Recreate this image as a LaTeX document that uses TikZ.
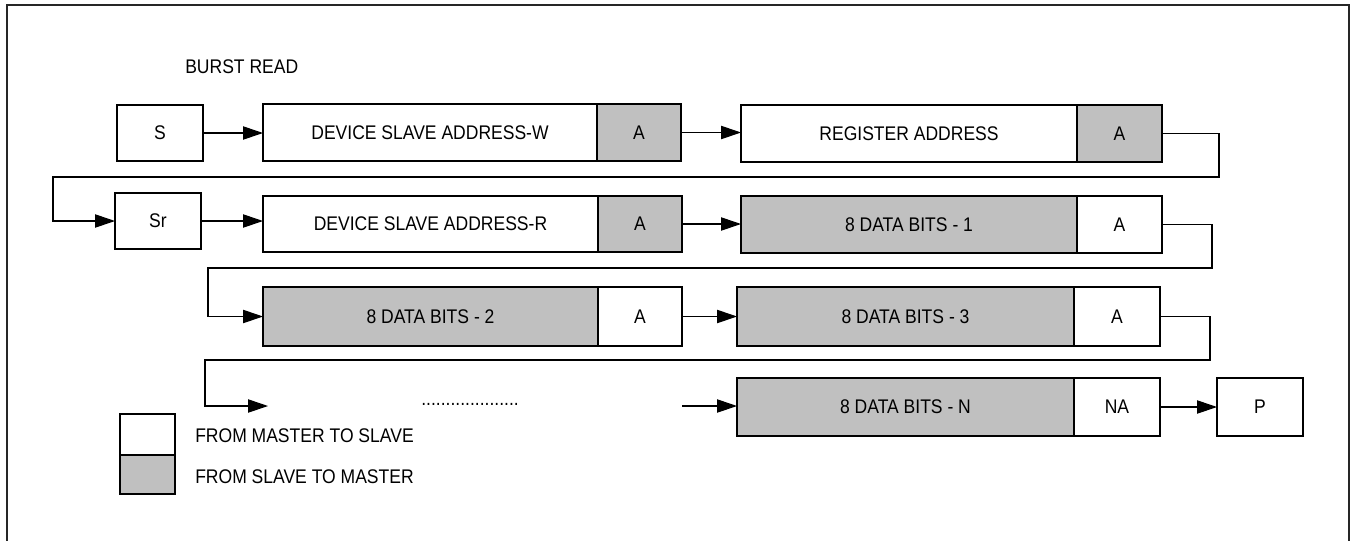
\documentclass[tikz,border=0pt]{standalone}
\usepackage{fontspec}
\setmainfont{Liberation Sans}[FakeStretch=0.888]
\usetikzlibrary{arrows.meta}
\definecolor{shade}{RGB}{192,192,192}
\newcommand\pbox[7]{\node[#6, minimum width={(#4-#2)*0.75pt}, minimum height={(#5-#3)*0.75pt}] (#1) at ({(#2+#4)/2},{(#3+#5)/2}) {#7};}
\tikzset{
  box/.style={draw, line width=0.9pt, inner sep=0pt, outer sep=0pt},
  wbox/.style={box, fill=white},
  gbox/.style={box, fill=shade},
  conn/.style={line width=0.8pt, -{Triangle[length=15pt,width=10pt]}},
  frame/.style={line width=1.7pt, draw=black!85},
  lbl/.style={anchor=west, inner sep=0pt}
}
\begin{document}
\begin{tikzpicture}[x=0.75pt, y=-0.75pt, font=\fontsize{14.8pt}{18pt}\selectfont]
\useasboundingbox (0,0) rectangle (1351,540);
\draw[frame] (7,545) -- (7,5) -- (1349,5) -- (1349,545);

\node[lbl] (title) at (185,67) {BURST READ};

% row 1
\pbox{s}{117}{105}{203}{161}{wbox}{S}
\pbox{dw}{263}{104}{597}{161}{wbox}{DEVICE SLAVE ADDRESS-W}
\pbox{dwa}{597}{104}{681}{161}{gbox}{A}
\pbox{ra}{741}{105}{1077}{162}{wbox}{REGISTER ADDRESS}
\pbox{raa}{1077}{105}{1162}{162}{gbox}{A}

% row 2
\pbox{sr}{115}{193}{201}{249}{wbox}{Sr}
\pbox{dr}{263}{196}{598}{252}{wbox}{DEVICE SLAVE ADDRESS-R}
\pbox{dra}{598}{196}{682}{252}{gbox}{A}
\pbox{d1}{741}{196}{1077}{253}{gbox}{8 DATA BITS - 1}
\pbox{d1a}{1077}{196}{1162}{253}{wbox}{A}

% row 3
\pbox{d2}{263}{287}{598}{346}{gbox}{8 DATA BITS - 2}
\pbox{d2a}{598}{287}{682}{346}{wbox}{A}
\pbox{d3}{737}{287}{1074}{346}{gbox}{8 DATA BITS - 3}
\pbox{d3a}{1074}{287}{1160}{346}{wbox}{A}

% row 4
\pbox{dn}{737}{378}{1074}{436}{gbox}{8 DATA BITS - N}
\pbox{dna}{1074}{378}{1160}{436}{wbox}{NA}
\pbox{p}{1217}{378}{1303}{436}{wbox}{P}
\node[inner sep=0pt] (dots) at (470,404) {....................};

% legend
\pbox{lw}{120}{414}{175}{455}{wbox}{}
\pbox{lg}{120}{455}{175}{494}{gbox}{}
\node[lbl] (lwt) at (195,436) {FROM MASTER TO SLAVE};
\node[lbl] (lgt) at (195,477) {FROM SLAVE TO MASTER};

% connectors
\draw[conn] (s.east) -- (s.east -| dw.west);
\draw[conn] (dwa.east) -- (dwa.east -| ra.west);
\coordinate (w1a) at (1219,177);
\coordinate (w1b) at (53,177);
\draw[conn] (raa.east) -| (w1a) -- (w1b) |- (sr.west);
\draw[conn] (sr.east) -- (sr.east -| dr.west);
\draw[conn] (dra.east) -- (dra.east -| d1.west);
\coordinate (w2a) at (1212,268);
\coordinate (w2b) at (208,268);
\draw[conn] (d1a.east) -| (w2a) -- (w2b) |- (d2.west);
\draw[conn] (d2a.east) -- (d2a.east -| d3.west);
\coordinate (w3a) at (1210,360);
\coordinate (w3b) at (205,360);
\coordinate (w3c) at (268,406);
\draw[conn] (d3a.east) -| (w3a) -- (w3b) |- (w3c);
\coordinate (inN) at (682,406);
\draw[conn] (inN) -- (inN -| dn.west);
\draw[conn] (dna.east) -- (dna.east -| p.west);
\end{tikzpicture}
\end{document}
